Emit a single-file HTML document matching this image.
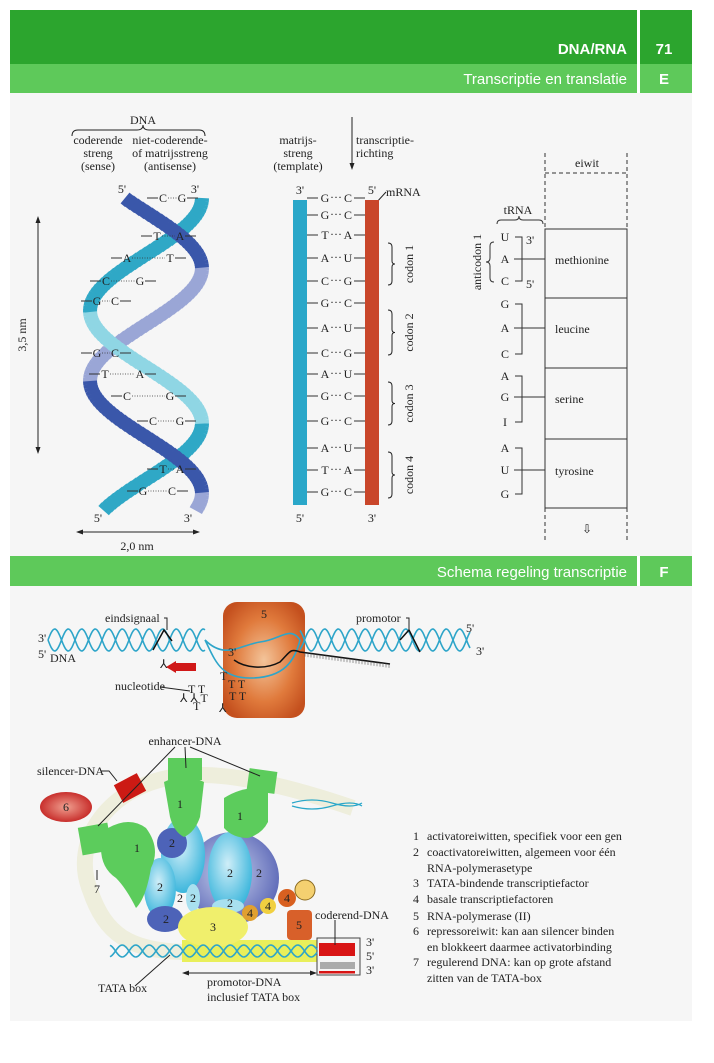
<!DOCTYPE html>
<html><head><meta charset="utf-8">
<style>
html,body{margin:0;padding:0;background:#fff;}
body{width:714px;height:1063px;position:relative;overflow:hidden;}
svg{position:absolute;left:0;top:0;}
.s{font-family:"Liberation Serif",serif;font-size:12px;fill:#222;}
.h{font-family:"Liberation Sans",sans-serif;fill:#fff;}
</style></head><body>
<svg id="fig" width="714" height="1063" viewBox="0 0 714 1063" xmlns="http://www.w3.org/2000/svg">
<defs>
<radialGradient id="og" cx="50%" cy="50%" r="60%"><stop offset="0" stop-color="#f3c49a"/><stop offset="0.6" stop-color="#e07a3c"/><stop offset="1" stop-color="#c4501e"/></radialGradient>
<radialGradient id="bg2" cx="45%" cy="45%" r="60%"><stop offset="0" stop-color="#c8d0ec"/><stop offset="1" stop-color="#5a66b6"/></radialGradient>
<radialGradient id="rg" cx="50%" cy="50%" r="60%"><stop offset="0" stop-color="#f0a090"/><stop offset="1" stop-color="#c01818"/></radialGradient>
<radialGradient id="cy" cx="45%" cy="40%" r="60%"><stop offset="0" stop-color="#cfeef8"/><stop offset="1" stop-color="#3cb6dc"/></radialGradient>
</defs>
<rect x="10" y="93" width="682" height="928" fill="#f6f6f6"/>
<g>
<rect x="10" y="10" width="682" height="54" fill="#2ca52e"/>
<rect x="10" y="64" width="682" height="29" fill="#5ec95a"/>
<rect x="637" y="10" width="3" height="83" fill="#fff"/>
<text class="h" x="627" y="54" text-anchor="end" font-size="15" font-weight="bold">DNA/RNA</text>
<text class="h" x="664" y="54" text-anchor="middle" font-size="15" font-weight="bold">71</text>
<text class="h" x="627" y="84" text-anchor="end" font-size="15">Transcriptie en translatie</text>
<text class="h" x="664" y="84" text-anchor="middle" font-size="15" font-weight="bold">E</text>
</g>
<g>
<rect x="10" y="556" width="682" height="30" fill="#5ec95a"/>
<rect x="637" y="556" width="3" height="30" fill="#fff"/>
<text class="h" x="627" y="577" text-anchor="end" font-size="15">Schema regeling transcriptie</text>
<text class="h" x="664" y="577" text-anchor="middle" font-size="15" font-weight="bold">F</text>
</g>

<g class="s">
<text x="143" y="124" text-anchor="middle" class="s">DNA</text>
<path d="M72,136 q0,-6 6,-6 L137,130 q6,0 6,-5 q0,5 6,5 L199,130 q6,0 6,6" fill="none" stroke="#222" stroke-width="1"/>
<text x="98" y="144" text-anchor="middle" class="s">coderende</text>
<text x="98" y="157" text-anchor="middle" class="s">streng</text>
<text x="98" y="170" text-anchor="middle" class="s">(sense)</text>
<text x="170" y="144" text-anchor="middle" class="s">niet-coderende-</text>
<text x="170" y="157" text-anchor="middle" class="s">of matrijsstreng</text>
<text x="170" y="170" text-anchor="middle" class="s">(antisense)</text>
<text x="122" y="193" text-anchor="middle" class="s">5'</text>
<text x="195" y="193" text-anchor="middle" class="s">3'</text>
<text x="98" y="522" text-anchor="middle" class="s">5'</text>
<text x="188" y="522" text-anchor="middle" class="s">3'</text>
<line x1="38" y1="220" x2="38" y2="450" stroke="#222"/>
<path d="M38,216 l-2.5,7 h5z M38,454 l-2.5,-7 h5z" fill="#222"/>
<text transform="translate(26,335) rotate(-90)" text-anchor="middle" class="s">3,5 nm</text>
<line x1="80" y1="532" x2="196" y2="532" stroke="#222"/>
<path d="M76,532 l7,-2.5 v5z M200,532 l-7,-2.5 v5z" fill="#222"/>
<text x="137" y="550" text-anchor="middle" class="s">2,0 nm</text>
</g>
<g id="helix"></g>
<g id="helixbp"></g>

<g>
<text x="298" y="144" text-anchor="middle" class="s">matrijs-</text>
<text x="298" y="157" text-anchor="middle" class="s">streng</text>
<text x="298" y="170" text-anchor="middle" class="s">(template)</text>
<line x1="352" y1="117" x2="352" y2="164" stroke="#222"/>
<path d="M352,170 l-2.5,-7 h5z" fill="#222"/>
<text x="356" y="144" class="s">transcriptie-</text>
<text x="356" y="157" class="s">richting</text>
<text x="300" y="194" text-anchor="middle" class="s">3'</text>
<text x="372" y="194" text-anchor="middle" class="s">5'</text>
<text x="300" y="522" text-anchor="middle" class="s">5'</text>
<text x="372" y="522" text-anchor="middle" class="s">3'</text>
<text x="386" y="196" class="s">mRNA</text>
<line x1="386" y1="192" x2="376" y2="203" stroke="#222"/>
</g>
<rect x="293" y="200" width="14" height="305" fill="#2aa7c9"/>
<rect x="365" y="200" width="14" height="305" fill="#c9462a"/>
<g id="mrnabp"></g>
<g id="codons"></g>

<g fill="none" stroke="#333">
<line x1="545" y1="153" x2="545" y2="229" stroke-dasharray="4,3"/>
<line x1="627" y1="153" x2="627" y2="229" stroke-dasharray="4,3"/>
<line x1="545" y1="173" x2="627" y2="173" stroke-dasharray="4,3"/>
<line x1="545" y1="508" x2="545" y2="540" stroke-dasharray="4,3"/>
<line x1="627" y1="508" x2="627" y2="540" stroke-dasharray="4,3"/>
<rect x="545" y="229" width="82" height="279"/>
<line x1="545" y1="298" x2="627" y2="298"/>
<line x1="545" y1="368" x2="627" y2="368"/>
<line x1="545" y1="439" x2="627" y2="439"/>
<path d="M497,224 q0,-4 4,-4 h14 q4,0 4,-4 q0,4 4,4 h16 q4,0 4,4" stroke-width="1"/>
<path d="M494,242 q-4,0 -4,4 v12 q0,4 -4,4 q4,0 4,4 v12 q0,4 4,4"/>
</g>
<text x="587" y="167" text-anchor="middle" class="s">eiwit</text>
<text x="518" y="214" text-anchor="middle" class="s">tRNA</text>
<text transform="translate(481,262) rotate(-90)" text-anchor="middle" class="s">anticodon 1</text>
<text x="587" y="533" text-anchor="middle" class="s" font-size="18" fill="#444">⇩</text>
<g id="trna"></g>

<rect x="223" y="602" width="82" height="116" rx="14" fill="url(#og)"/>
<text x="264" y="618" text-anchor="middle" class="s">5</text>
<g id="tdna"></g>
<g>
<text x="105" y="622" class="s">eindsignaal</text>
<path d="M164,618 h3 v12" fill="none" stroke="#222"/>
<text x="356" y="622" class="s">promotor</text>
<path d="M406,618 h3 v12" fill="none" stroke="#222"/>
<text x="38" y="642" class="s">3'</text>
<text x="38" y="658" class="s">5'</text>
<text x="50" y="662" class="s">DNA</text>
<text x="466" y="632" class="s">5'</text>
<text x="476" y="655" class="s">3'</text>
<text x="228" y="656" class="s">3'</text>
<path d="M166,667 l10,-6 v12z M176,663 h20 v8 h-20z" fill="#d01818"/>
<text x="115" y="690" class="s">nucleotide</text>
<line x1="160" y1="687" x2="190" y2="691" stroke="#222"/>
<text x="160" y="668" class="s" font-size="10">⅄</text>
<text x="188" y="693" class="s" font-size="9">T T</text>
<text x="180" y="702" class="s" font-size="9">⅄ ⅄ T</text>
<text x="193" y="710" class="s" font-size="9">T</text>
<text x="220" y="680" class="s" font-size="9">T</text>
<text x="228" y="688" class="s" font-size="9">T T</text>
<text x="229" y="700" class="s" font-size="9">T T</text>
<text x="219" y="712" class="s" font-size="9">⅄</text>
</g>

<g>
<path d="M353,808 C300,790 230,770 180,776 C110,784 70,840 90,890 C105,935 130,950 182,952 L320,952" fill="none" stroke="#eeeedc" stroke-width="16"/>
<path d="M292,803 q20,-6 40,0 q20,6 30,0" fill="none" stroke="#2aa7c9" stroke-width="1.3"/>
<path d="M292,806 q20,6 40,0 q20,-6 30,0" fill="none" stroke="#2aa7c9" stroke-width="1.3"/>
<ellipse cx="66" cy="807" rx="26" ry="15" fill="url(#rg)"/>
<text x="66" y="811" text-anchor="middle" class="s">6</text>
<rect x="117" y="778" width="26" height="20" fill="#cc1a14" transform="rotate(-28 130 788)"/>
<circle cx="233" cy="878" r="46" fill="url(#bg2)"/>
<ellipse cx="183" cy="855" rx="22" ry="38" fill="url(#cy)"/>
<ellipse cx="230" cy="872" rx="22" ry="40" fill="url(#cy)"/>
<ellipse cx="160" cy="888" rx="16" ry="30" fill="url(#cy)"/>
<circle cx="172" cy="843" r="15" fill="#4d63b8"/>
<ellipse cx="165" cy="919" rx="18" ry="13" fill="#4d63b8"/>
<ellipse cx="193" cy="898" rx="7" ry="14" fill="#a8e0ef"/>
<ellipse cx="228" cy="906" rx="16" ry="7" fill="#a8e0ef"/>
<rect x="182" y="940" width="135" height="22" fill="#e9ef5a"/>
<ellipse cx="213" cy="927" rx="35" ry="20" fill="#f0ef6c"/>
<rect x="80" y="825" width="30" height="28" fill="#5ccc5c" transform="rotate(-10 95 839)"/>
<path d="M108,828 q22,-12 38,0 q15,20 5,40 q-5,30 -15,40 q-10,-20 -20,-30 q-15,-10 -15,-30z" fill="#5ccc5c"/>
<rect x="168" y="758" width="34" height="22" fill="#5ccc5c"/>
<path d="M164,782 q20,-10 40,0 l-4,35 q-5,15 -16,20 q-10,-5 -14,-20z" fill="#5ccc5c"/>
<rect x="248" y="770" width="28" height="22" fill="#5ccc5c" transform="rotate(8 262 781)"/>
<path d="M224,798 q22,-14 44,-8 l0,32 q-6,12 -20,16 q-15,0 -24,-10z" fill="#5ccc5c"/>
<circle cx="250" cy="913" r="8" fill="#e0a030"/>
<circle cx="268" cy="906" r="8" fill="#f1d040"/>
<circle cx="287" cy="898" r="9" fill="#d86020"/>
<circle cx="305" cy="890" r="10" fill="#f4d070" stroke="#8a6a20"/>
<rect x="287" y="910" width="25" height="30" rx="4" fill="#d8602a"/>
<rect x="317" y="938" width="43" height="37" fill="#f4f4f4" stroke="#444"/>
<rect x="319" y="943" width="36" height="13" fill="#d81414"/>
<path d="M320,962 h35 v7 h-35z" fill="#aaa"/>
<rect x="319" y="971" width="36" height="2.5" fill="#d81414"/>
<line x1="186" y1="973" x2="313" y2="973" stroke="#222"/>
<path d="M182,973 l7,-2.5 v5z M317,973 l-7,-2.5 v5z" fill="#222"/>
<line x1="135" y1="986" x2="170" y2="955" stroke="#222"/>
<line x1="175" y1="747" x2="98" y2="826" stroke="#222"/>
<line x1="185" y1="747" x2="186" y2="768" stroke="#222"/>
<line x1="190" y1="747" x2="260" y2="776" stroke="#222"/>
<line x1="97" y1="870" x2="97" y2="880" stroke="#222"/>
<line x1="335" y1="920" x2="335" y2="945" stroke="#222"/>
</g>
<g id="regnums"></g>
<g id="tdna2"></g>
<g>
<text x="185" y="745" text-anchor="middle" class="s">enhancer-DNA</text>
<text x="37" y="775" class="s">silencer-DNA</text>
<path d="M101,771 h8 l8,10" fill="none" stroke="#222"/>
<text x="97" y="893" text-anchor="middle" class="s">7</text>
<text x="315" y="919" class="s">coderend-DNA</text>
<text x="366" y="946" class="s">3'</text>
<text x="366" y="960" class="s">5'</text>
<text x="366" y="974" class="s">3'</text>
<text x="98" y="992" class="s">TATA box</text>
<text x="207" y="986" class="s">promotor-DNA</text>
<text x="207" y="1001" class="s">inclusief  TATA box</text>
</g>
<g id="legend"></g>
</svg>
<script>
var NS="http://www.w3.org/2000/svg";
function mk(p,tag,attrs,txt){var e=document.createElementNS(NS,tag);for(var k in attrs)e.setAttribute(k,attrs[k]);if(txt!==undefined)e.textContent=txt;p.appendChild(e);return e;}
var helixY=[202,240,262,285,305,357,378,400,425,473,495];
var helixL=["C","T","A","C","G","G","T","C","C","T","G"];
var helixR=["G","A","T","G","C","C","A","G","G","A","C"];
var helixLX=[163,157,127,106,97,97,105,127,153,163,143];
var helixRX=[182,180,170,140,115,115,140,170,180,180,172];
var mY=[202,219,239,262,285,307,332,357,378,400,425,452,474,496];
var mT=["G","G","T","A","C","G","A","C","A","G","G","A","T","G"];
var mR=["C","C","A","U","G","C","U","G","U","C","C","U","A","C"];
var codonLabels=["codon 1","codon 2","codon 3","codon 4"];
var codonTop=[243,310,382,452];
var codonBot=[285,355,425,498];
var aminoAcids=["methionine","leucine","serine","tyrosine"];
var aminoY=[264,333,403,475];
var trnaBases=["U","A","C","G","A","C","A","G","I","A","U","G"];
var trnaY=[241,263,285,308,332,358,380,401,426,452,474,498];
var legNums=["1","2","","3","4","5","6","","7",""];
var legText=["activatoreiwitten, specifiek voor een gen","coactivatoreiwitten, algemeen voor één","RNA-polymerasetype","TATA-bindende transcriptiefactor","basale transcriptiefactoren","RNA-polymerase (II)","repressoreiwit: kan aan silencer binden","en blokkeert daarmee activatorbinding","regulerend DNA: kan op grote afstand","zitten van de TATA-box"];
var legY=[840,856,872,887,903,920,935,951,966,982];

var h=document.getElementById('helix');
function strand(fn,cFront,cBack,front){
  for(var y=198;y<508;y+=3){
    var x1=fn(y),x2=fn(y+3);
    var f=(x2-x1)>0; if(f!==front)continue;
    var l=mk(h,'line',{x1:x1,y1:y,x2:x2,y2:y+3.6,stroke:f?cFront:cBack,'stroke-width':14});
    
    
  }
}
var A=function(y){return 146+56*Math.cos(2*Math.PI*(y-268)/225);};
var B=function(y){return 146+56*Math.cos(2*Math.PI*(y-198)/225);};
strand(A,"#3a57aa","#9aa6d6",false);strand(B,"#8fd6e4","#2fa8c6",false);
strand(A,"#3a57aa","#9aa6d6",true);strand(B,"#8fd6e4","#2fa8c6",true);
var hb=document.getElementById('helixbp');
for(var i=0;i<helixY.length;i++){
  var y=helixY[i];
  var l=mk(hb,'line',{x1:helixLX[i]+5,y1:y-4,x2:helixRX[i]-5,y2:y-4,stroke:'#333','stroke-width':0.8,'stroke-dasharray':'1,1.5'});
  
  
  mk(hb,'line',{x1:helixLX[i]-16,y1:y-4,x2:helixLX[i]-5,y2:y-4,stroke:'#333'});
  mk(hb,'line',{x1:helixRX[i]+5,y1:y-4,x2:helixRX[i]+16,y2:y-4,stroke:'#333'});
  var t=mk(hb,'text',{x:helixLX[i],y:y,'text-anchor':'middle','class':'s'},helixL[i]);
  
  
  var t2=mk(hb,'text',{x:helixRX[i],y:y,'text-anchor':'middle','class':'s'},helixR[i]);
  
  
}
var mb=document.getElementById('mrnabp');
for(var i=0;i<mY.length;i++){
  var y=mY[i];
  mk(mb,'line',{x1:307,y1:y-4,x2:318,y2:y-4,stroke:'#333'});
  mk(mb,'line',{x1:354,y1:y-4,x2:365,y2:y-4,stroke:'#333'});
  var t=mk(mb,'text',{x:325,y:y,'text-anchor':'middle','class':'s'},mT[i]);
  
  
  mk(mb,'text',{x:336,y:y-1,'text-anchor':'middle','class':'s','font-size':9},'···');
  var t2=mk(mb,'text',{x:348,y:y,'text-anchor':'middle','class':'s'},mR[i]);
  
  
}
var cg=document.getElementById('codons');
for(var i=0;i<4;i++){
  var a=codonTop[i],b=codonBot[i],m=(a+b)/2;
  var p=mk(cg,'path',{d:'M388,'+a+' q4,0 4,4 V'+(m-3)+' q0,3 3,3 q-3,0 -3,3 V'+(b-4)+' q0,4 -4,4',fill:'none',stroke:'#222'});
  
  
  var t=mk(cg,'text',{transform:'translate(413,'+m+') rotate(-90)','text-anchor':'middle','class':'s'},codonLabels[i]);
  
  
}
var tr=document.getElementById('trna');
for(var i=0;i<trnaBases.length;i++){
  var t=mk(tr,'text',{x:505,y:trnaY[i],'text-anchor':'middle','class':'s'},trnaBases[i]);
  
  
}
for(var g=0;g<4;g++){
  var y0=trnaY[g*3]-4,y2=trnaY[g*3+2]-4,y1=trnaY[g*3+1]-4;
  mk(tr,'path',{d:'M515,'+y0+' h7 V'+y2+' h-7',fill:'none',stroke:'#333'});
  mk(tr,'line',{x1:514,y1:y1,x2:545,y2:y1,stroke:'#333'});
  var t=mk(tr,'text',{x:555,y:aminoY[g],'class':'s'},aminoAcids[g]);
  
  
}
mk(tr,'text',{x:526,y:244,'class':'s','font-size':10},"3'");
mk(tr,'text',{x:526,y:288,'class':'s','font-size':10},"5'");
var td=document.getElementById('tdna');
function wave(g,x0,x1,yc,amp,per,ph,col){
  var d='';for(var x=x0;x<=x1;x+=1){var y=yc+amp*Math.sin(2*Math.PI*(x-48)/per+ph);d+=(d?'L':'M')+x+','+y.toFixed(1);}
  mk(g,'path',{d:d,fill:'none',stroke:col,'stroke-width':1.6});
}
wave(td,48,205,640,11,27,0,'#2ea5c9');wave(td,48,205,640,11,27,Math.PI,'#2ea5c9');
wave(td,300,470,640,11,27,0,'#2ea5c9');wave(td,300,470,640,11,27,Math.PI,'#2ea5c9');
mk(td,'path',{d:'M205,640 C225,660 240,645 260,642 C280,640 290,625 300,640',fill:'none',stroke:'#2ea5c9','stroke-width':1.6});
mk(td,'path',{d:'M205,640 C215,660 220,678 250,678 C285,678 295,660 300,640',fill:'none',stroke:'#2ea5c9','stroke-width':1.6});
mk(td,'path',{d:'M234,660 C245,668 265,670 280,662 C290,652 290,648 300,652 L390,664',fill:'none',stroke:'#111','stroke-width':1.5});
for(var x=305;x<390;x+=3)mk(td,'line',{x1:x,y1:652+(x-300)*0.133,x2:x,y2:656+(x-300)*0.133,stroke:'#555','stroke-width':0.6});
mk(td,'path',{d:'M153,650 L164,630 L172,641',fill:'none',stroke:'#111','stroke-width':1.5});
mk(td,'path',{d:'M400,640 L409,630 L420,652',fill:'none',stroke:'#111','stroke-width':1.5});
var t2=document.getElementById('tdna2');
wave(t2,110,317,951,6,27,0,'#2ea5c9');wave(t2,110,317,951,6,27,Math.PI,'#2ea5c9');
var rn=document.getElementById('regnums');
var nums=[["1",180,808],["1",240,820],["1",137,852],["2",172,847],["2",230,877],["2",259,877],["2",160,891],["2",166,923],["2",180,902],["2",193,902],["2",230,907],["3",213,931],["4",250,917],["4",268,910],["4",287,902],["5",299,929]];
for(var i=0;i<nums.length;i++){
  var t=mk(rn,'text',{x:nums[i][1],y:nums[i][2],'text-anchor':'middle','class':'s','font-size':11},nums[i][0]);
  
  
}
var lg=document.getElementById('legend');
for(var i=0;i<legText.length;i++){
  if(legNums[i]){var n=mk(lg,'text',{x:413,y:legY[i],'class':'s'},legNums[i]);
    
    }
  var t=mk(lg,'text',{x:427,y:legY[i],'class':'s'},legText[i]);
  
  
}
</script>
</body></html>
